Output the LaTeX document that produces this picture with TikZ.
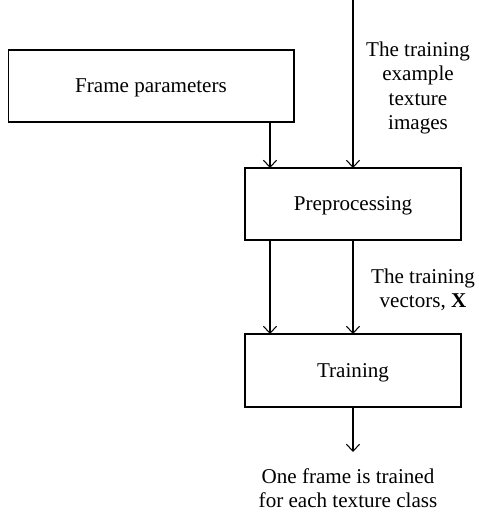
\documentclass[tikz,border=0pt]{standalone}
\usepackage{fontspec}
\setmainfont{Liberation Serif}
\usetikzlibrary{positioning, arrows.meta}

\begin{document}
\begin{tikzpicture}[x=0.02cm, y=-0.02cm, font=\fontsize{12}{13.8}\selectfont,
    block/.style={draw, line width=0.6pt, outer sep=0pt, text depth=0pt, minimum height=1.44cm},
    flow/.style={-{Straight Barb[length=4pt, width=7.5pt]}, line width=0.6pt}]
    \useasboundingbox (0,0) rectangle (478,514);

    % Blocks
    \node[block, minimum width=5.72cm] (frame) at (151,86) {Frame parameters};
    \node[block, minimum width=4.32cm] (prep) at (353,204) {Preprocessing};
    \node[block, minimum width=4.32cm, minimum height=1.46cm] (train) at (353,370.5) {Training};

    % Free ends and the left column
    \coordinate (top) at (353,0);
    \coordinate (lx) at (270,0);
    \coordinate (out) at (353,452);

    % Connectors
    \draw[flow] (top) -- (prep.north);
    \draw[flow] (frame.south -| lx) -- (prep.north -| lx);
    \draw[flow] (prep.south -| lx) -- (train.north -| lx);
    \draw[flow] (prep.south) -- (train.north);
    \draw[flow] (train.south) -- (out);

    % Labels
    \node[align=center, inner sep=0pt] (images) at (418,88) {The training\\ example\\ texture\\ images};
    \node[align=center, inner sep=0pt] (vectors) at (423,290) {The training\\ vectors, \textbf{X}};
    \node[align=center, inner sep=0pt] (result) at (348,488) {One frame is trained\\ for each texture class};
\end{tikzpicture}
\end{document}
